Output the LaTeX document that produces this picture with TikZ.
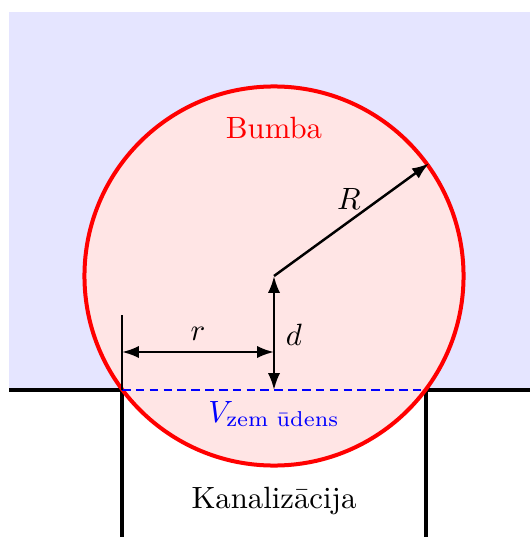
\documentclass[tikz,border=0pt]{standalone}
\usepackage{fontspec}
\usepackage{amsmath}
\usetikzlibrary{arrows.meta}
\tikzset{
  dim/.style={thick, {Latex[length=5.5pt,width=4pt]}-{Latex[length=5.5pt,width=4pt]}},
  ray/.style={thick, -{Latex[length=5.5pt,width=4pt]}},
  ground/.style={line width=1.1pt, black},
  ball/.style={circle, draw=red, fill=red!10, line width=1.3pt, inner sep=0pt, minimum size=123.2pt},
}
\begin{document}
\begin{tikzpicture}[x=0.325pt,y=-0.325pt]
\useasboundingbox (0,0) rectangle (530,537);
\fill[blue!10] (9,12) rectangle (530,390);
\coordinate (c) at (274,276);
\coordinate (gl) at (122,390);
\coordinate (gr) at (426,390);
\coordinate (gll) at (9,390);
\coordinate (grr) at (530,390);
\coordinate (bl) at (122,537);
\coordinate (br) at (426,537);
\coordinate (dbot) at (274,390);
\coordinate (rl) at (122,352);
\coordinate (rr) at (274,352);
\coordinate (tick) at (122,315);
\draw[ground] (gll) -- (gl) -- (bl);
\draw[ground] (grr) -- (gr) -- (br);
\node[ball] (ball) at (c) {};
\draw[blue, semithick, dash pattern=on 2.8pt off 1.7pt] (gl) -- (gr);
\draw[thin] (tick) -- (gl);
\draw[ray] (c) -- (ball.36.6);
\draw[dim] (c) -- (dbot);
\draw[dim] (rl) -- (rr);
\node (lR) at (349,199) {$R$};
\node (ld) at (294,335) {$d$};
\node (lr) at (198,334) {$r$};
\node[text=red] (lb) at (274,128) {Bumba};
\node[text=blue] (lv) at (274,414) {$V_{\text{zem ūdens}}$};
\node (lk) at (274,501) {Kanalizācija};
\end{tikzpicture}
\end{document}
